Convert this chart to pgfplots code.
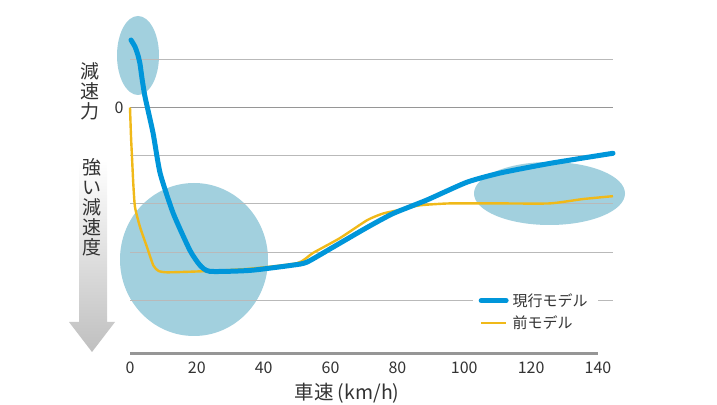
\documentclass[border=0pt]{standalone}
\usepackage{fontspec}
\setmainfont{Noto Sans CJK JP}
\usepackage{pgfplots}
\pgfplotsset{compat=1.18}
\definecolor{ell}{RGB}{162,208,222}
\definecolor{cur}{RGB}{0,150,218}
\definecolor{prev}{RGB}{240,185,25}
\definecolor{txt}{RGB}{51,51,51}
\definecolor{grd}{RGB}{185,185,185}
\definecolor{zgrd}{RGB}{150,150,150}
\begin{document}
\begin{tikzpicture}[x=1pt,y=1pt]
\path[use as bounding box] (0,0) rectangle (717,404);
\fill[ell] (138,348.5) ellipse [x radius=21, y radius=39.5];
\fill[ell] (194,144.5) ellipse [x radius=74, y radius=76.5];
\fill[ell] (549.5,210.5) ellipse [x radius=75.5, y radius=31.5];
\shade[top color=white, bottom color=black!25] (79,244) -- (107,244) -- (107,82) -- (115,82) -- (92,52) -- (69,82) -- (79,82) -- cycle;
\node[text=txt, align=center, font=\fontsize{19}{20}\selectfont, inner sep=0] at (90,313) {減\\速\\力};
\node[text=txt, align=center, font=\fontsize{19}{20}\selectfont, inner sep=0] at (92,196.5) {強\\い\\減\\速\\度};
\node[text=txt, font=\fontsize{19.5}{21}\selectfont, inner sep=0] at (347,10.5) {車速 (km/h)};
\begin{axis}[
  at={(130pt,50.7pt)}, anchor=south west, scale only axis,
  width=483pt, height=342.2pt,
  xmin=0, xmax=144.5, ymin=-5.1, ymax=2,
  clip=false,
  axis line style={draw=none}, tick style={draw=none},
  major tick length=0pt,
  xtick={0,20,...,140},
  ytick={-4,-3,-2,-1,1}, yticklabels={},
  extra y ticks={0}, extra y tick labels={0},
  extra y tick style={grid style={zgrd, line width=1.8pt}},
  ymajorgrids,
  grid style={grd, line width=1.1pt},
  /pgf/number format/assume math mode=true,
  ticklabel style={font=\fontsize{16}{18}\selectfont, text=txt},
  yticklabel style={xshift=-3pt},
  xticklabel style={yshift=-5pt},
  reverse legend,
  legend image code/.code={\draw[#1] (0pt,0pt) -- (25pt,0pt);},
  legend style={at={(0.709,0.19)}, anchor=north west, draw=none, fill=white,
    font=\fontsize{15}{17}\selectfont, text=txt, inner xsep=6pt, inner ysep=3pt,
    row sep=4pt, nodes={inner xsep=4pt}},
  legend cell align=left,
]
\draw[zgrd, line width=2.6pt] (axis cs:0,-5.1) -- (axis cs:140,-5.1);
\addplot[prev, line width=2.4pt, line join=round, smooth, tension=0.35] coordinates {
(0,0) (0.3,-0.6) (0.6,-1.03) (1.0,-1.6) (1.5,-2.07) (3.0,-2.48) (5.1,-2.90)
(7.0,-3.28) (8.5,-3.39) (11.1,-3.42) (20.9,-3.40) (35,-3.35) (50.0,-3.23)
(54.7,-3.02) (62.8,-2.71) (70.9,-2.34) (75.7,-2.20) (81.7,-2.11) (86.7,-2.03)
(95.7,-1.99) (110.7,-1.99) (125.6,-1.99) (135.5,-1.90) (144.5,-1.84)};
\addlegendentry{前モデル}
\addplot[cur, line width=5pt, line join=round, line cap=round, smooth, tension=0.35] coordinates {
(0.3,1.40) (1.5,1.26) (2.4,1.08) (3.0,0.90) (3.6,0.60) (4.5,0.22) (6.9,-0.53)
(9.0,-1.36) (12.9,-2.19) (17.9,-2.96) (20.9,-3.27) (23.9,-3.40) (35.9,-3.38)
(48.8,-3.27) (52.9,-3.21) (60.7,-2.90) (70.9,-2.49) (78.7,-2.20) (88.8,-1.92)
(100.8,-1.55) (110.7,-1.36) (125.6,-1.16) (144.5,-0.95)};
\addlegendentry{現行モデル}
\end{axis}
\end{tikzpicture}
\end{document}
